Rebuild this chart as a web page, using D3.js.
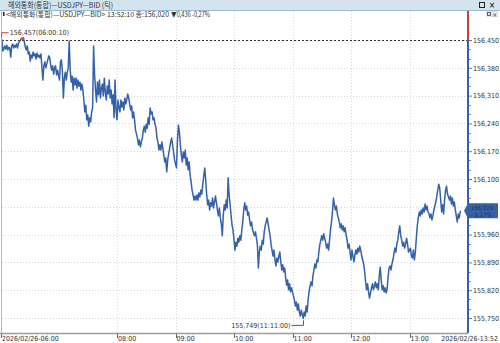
<!DOCTYPE html>
<meta charset="utf-8">
<style>
body { margin:0; background:#fff; }
text { font-family:"Liberation Sans Narrow","DejaVu Sans Condensed",sans-serif; font-size:7px; fill:#333; }
.kr { font-family:"Noto Sans CJK KR",sans-serif; }
</style>
<body>
<script src="https://cdn.jsdelivr.net/npm/d3@7/dist/d3.min.js"></script>
<script>

//==========tick data (one point per minute)==========
var times=[
 //06
 "06:00","06:00:10","06:02","06:03","06:05","06:06","06:07","06:08","06:09","06:10","06:11","06:12","06:13","06:14","06:15","06:16","06:17","06:18","06:19",
 "06:21","06:22","06:23","06:24","06:25","06:26","06:27","06:28","06:29","06:30","06:31","06:32","06:33","06:34","06:35","06:36","06:37","06:38","06:39","06:40","06:41","06:42",
 "06:44","06:45","06:46","06:47","06:48","06:49","06:50","06:51","06:52","06:53","06:54","06:55","06:56","06:57","06:58","06:59",
 //07
 "07:01","07:02","07:03","07:04","07:05","07:06","07:07","07:08","07:09","07:10","07:11","07:12","07:13","07:14","07:15","07:16","07:17","07:18","07:19","07:20",
 "07:21","07:22","07:23","07:24","07:25","07:26","07:27","07:28","07:29","07:30","07:31","07:32","07:33","07:34","07:35","07:36","07:37","07:38","07:39","07:40",
 "07:41","07:42","07:43","07:44","07:45","07:46","07:47","07:48","07:49","07:50","07:51","07:52","07:53","07:54","07:55","07:56","07:57","07:58","07:59",
 //08
 "08:00","08:01","08:02","08:03","08:04","08:05","08:06","08:07","08:08","08:09","08:10","08:11","08:12","08:13","08:14","08:15","08:16","08:17","08:18","08:19",
 "08:21","08:22","08:23","08:24","08:25","08:26","08:27","08:28","08:29","08:30","08:31","08:32","08:33","08:34","08:35","08:36","08:37","08:38","08:39","08:40",
 "08:41","08:42","08:43","08:44","08:45","08:46","08:47","08:48","08:49","08:50","08:51","08:52","08:53","08:54","08:55","08:56","08:57","08:58","08:59",
 //09
 "09:01","09:02","09:03","09:04","09:05","09:06","09:07","09:08","09:09","09:10","09:11","09:12","09:13","09:14","09:15","09:16","09:17","09:18","09:19","09:20",
 "09:21","09:22","09:23","09:24","09:25","09:26","09:27","09:28","09:29","09:30","09:31","09:32","09:33","09:34","09:35","09:36","09:37","09:38","09:39",
 "09:41","09:42","09:43","09:44","09:45","09:46","09:47","09:48","09:49","09:50","09:51","09:52","09:53","09:54","09:55","09:56","09:57","09:58","09:59",
 //10
 "10:00","10:01","10:02","10:03","10:04","10:05","10:06","10:07","10:08","10:09","10:10","10:11","10:12","10:13","10:14","10:15","10:16","10:17","10:18","10:19",
 "10:21","10:22","10:23","10:24","10:25","10:26","10:27","10:28","10:29","10:30","10:31","10:32","10:33","10:34","10:35","10:36","10:37","10:38","10:39","10:40",
 "10:41","10:42","10:43","10:44","10:45","10:46","10:47","10:48","10:49","10:50","10:51","10:52","10:53","10:54","10:55","10:56","10:57","10:58","10:59",
 //11
 "11:01","11:02","11:03","11:04","11:05","11:06","11:07","11:08","11:09",
 "11:11","11:12","11:13","11:14","11:15","11:16","11:17","11:18","11:19","11:20",
 "11:21","11:22","11:23","11:24","11:25","11:26","11:27","11:28","11:29","11:30","11:31","11:32","11:33","11:34","11:35","11:36","11:37","11:38","11:39","11:40",
 "11:41","11:42","11:43","11:44","11:45","11:46","11:47","11:48","11:49","11:50","11:51","11:52","11:53","11:54","11:55","11:56","11:57","11:58","11:59",
 //12
 "12:00","12:01","12:02","12:03","12:04","12:05","12:06","12:07","12:08","12:09","12:10","12:11","12:12","12:13","12:14","12:15","12:16","12:17","12:18","12:19",
 "12:21","12:22","12:23","12:24","12:25","12:26","12:27","12:28","12:29","12:30","12:31","12:32","12:33","12:34","12:35","12:36","12:37","12:38","12:39","12:40",
 "12:41","12:42","12:43","12:44","12:45","12:46","12:47","12:48","12:49","12:50","12:51","12:52","12:53","12:54","12:55","12:56","12:57","12:58","12:59",
 //13
 "13:01","13:02","13:03","13:04","13:05","13:06","13:07","13:08","13:09","13:10","13:11","13:12","13:13","13:14","13:15","13:16","13:17","13:18","13:19","13:20",
 "13:21","13:22","13:23","13:24","13:25","13:26","13:27","13:28","13:29","13:30","13:31","13:32","13:33","13:34","13:35","13:36","13:37","13:38","13:39",
 "13:41","13:42","13:43","13:44","13:45","13:46","13:47","13:48","13:49","13:50","13:51","13:52:10"
];

var prices=[
 //06
 156.455,156.457,156.450,156.422,156.435,156.427,156.437,156.425,156.432,156.430,156.407,156.435,156.440,156.430,156.437,156.432,156.440,156.430,156.442,
 156.450,156.455,156.452,156.456,156.445,156.432,156.425,156.435,156.415,156.420,156.397,156.412,156.405,156.420,156.410,156.415,156.402,156.417,156.407,156.412,156.405,156.415,
 156.349,156.385,156.395,156.380,156.390,156.400,156.410,156.405,156.387,156.374,156.385,156.364,156.380,156.385,156.362,156.374,
 //07
 156.349,156.395,156.400,156.369,156.304,156.354,156.369,156.349,156.369,156.380,156.447,156.374,156.344,156.359,156.324,156.354,156.337,156.354,156.329,156.349,
 156.334,156.344,156.324,156.339,156.324,156.299,156.269,156.286,156.249,156.261,156.233,156.254,156.244,156.269,156.279,156.435,156.362,156.324,156.294,156.344,
 156.312,156.349,156.304,156.329,156.339,156.309,156.354,156.319,156.299,156.334,156.314,156.349,156.304,156.324,156.289,156.312,156.254,156.349,156.274,
 //08
 156.249,156.299,156.279,156.269,156.299,156.281,156.294,156.274,156.304,156.289,156.299,156.314,156.304,156.289,156.274,156.284,156.254,156.269,156.249,156.223,
 156.203,156.186,156.198,156.181,156.193,156.203,156.223,156.233,156.218,156.238,156.228,156.254,156.238,156.279,156.264,156.269,156.249,156.254,156.238,156.228,
 156.203,156.193,156.173,156.186,156.173,156.193,156.178,156.160,156.143,156.153,156.118,156.148,156.163,156.178,156.193,156.203,156.186,156.168,156.148,
 //09
 156.128,156.198,156.236,156.218,156.186,156.160,156.143,156.168,156.153,156.173,156.135,156.153,156.123,156.143,156.110,156.092,156.072,156.060,156.047,156.057,
 156.047,156.060,156.047,156.065,156.055,156.072,156.062,156.087,156.108,156.128,156.097,156.060,156.035,156.047,156.022,156.040,156.032,156.052,156.027,
 156.057,156.040,156.022,156.007,156.027,156.002,155.987,155.957,156.009,156.035,156.022,156.047,156.027,156.103,156.060,156.035,156.009,155.984,155.972,
 //10
 155.946,155.921,155.941,155.931,155.951,155.941,155.957,155.946,155.972,155.992,156.022,156.040,156.022,156.032,156.009,156.017,155.997,155.982,155.992,155.972,
 155.957,155.967,155.951,155.934,155.876,155.916,155.931,155.921,155.946,155.936,155.967,155.982,155.992,156.002,155.987,155.972,155.957,155.936,155.921,155.906,
 155.921,155.896,155.881,155.901,155.891,155.906,155.916,155.891,155.871,155.884,155.866,155.876,155.851,155.833,155.846,155.821,155.836,155.816,155.826,
 //11
 155.805,155.795,155.780,155.790,155.770,155.785,155.765,155.755,155.770,
 155.749,155.765,155.755,155.780,155.765,155.795,155.816,155.831,155.841,155.831,
 155.856,155.871,155.886,155.876,155.896,155.891,155.916,155.934,155.946,155.957,155.946,155.962,155.951,155.941,155.926,155.936,155.921,155.946,155.972,155.992,
 156.017,156.052,156.035,156.022,156.032,156.012,156.002,155.992,155.977,155.987,155.972,155.982,155.967,155.977,155.959,155.946,155.926,155.936,155.916,
 //12
 155.896,155.921,155.906,155.891,155.909,155.921,155.911,155.926,155.916,155.931,155.921,155.906,155.896,155.886,155.866,155.841,155.821,155.836,155.816,155.800,
 155.826,155.836,155.821,155.831,155.841,155.826,155.836,155.821,155.856,155.878,155.846,155.821,155.831,155.816,155.826,155.813,155.821,155.851,155.876,155.881,
 155.871,155.886,155.896,155.911,155.926,155.916,155.936,155.946,155.967,155.982,155.957,155.946,155.931,155.941,155.926,155.936,155.951,155.936,155.916,
 //13
 155.926,155.906,155.901,155.921,155.896,155.916,155.951,155.982,156.002,156.017,156.007,156.022,156.012,156.027,156.017,156.037,156.022,156.032,156.017,156.012,
 156.002,156.012,155.997,156.007,156.022,156.032,156.042,156.057,156.072,156.087,156.077,156.047,156.017,156.035,156.012,156.047,156.072,156.082,156.062,
 156.047,156.057,156.037,156.052,156.032,156.042,156.022,156.007,155.992,156.012,156.002,156.020
];

//axis values
var yTicks=[155.750,155.820,155.890,155.960,156.030,156.100,156.170,156.240,156.310,156.380,156.450];
var hourLabels=["08:00","09:00","10:00","11:00","12:00","13:00"];
var firstLabel="2026/02/26-06:00";
var lastLabel="2026/02/26-13:52";
var baseLine=156.450;      //dashed line, red above it, blue below

//header texts
var titleText="해외통화(통합)—USDJPY—BID (틱)";
var infoText="<해외통화(통합)—USDJPY—BID> 13:52:10 종:156,020";
var changeText="▼0,436  -0,27%";
var tagLines=["156,020","- 0,27%"];

//==========scales==========
var parseT=d3.timeParse("%Y-%m-%d %H:%M:%S");
function toDate(s){ return parseT("2026-02-26 "+(s.length==5?s+":00":s)); }

var data=times.map(function(t,i){ return {t:toDate(t), p:prices[i]}; });

var W=500, H=343;
var plotL=2, plotR=467, plotT=11, plotB=333;

var x=d3.scaleTime().domain([toDate("06:00"),toDate("14:00")]).range([0,468]);
var y=d3.scaleLinear().domain([155.750,156.450]).range([318,40]);
var fmt=function(v){ return d3.format(".3f")(v).replace(".",","); };

var blue="#3561a8", red="#cf3f3a";

var svg=d3.select("body").append("svg").attr("width",W).attr("height",H);

//==========title bar==========
svg.append("rect").attr("x",0).attr("y",0).attr("width",W).attr("height",10).attr("fill","#d3e4ef");
svg.append("line").attr("x1",0).attr("x2",W).attr("y1",10.5).attr("y2",10.5).attr("stroke","#9db9cc");
svg.append("text").attr("class","kr").attr("x",8).attr("y",7.8).style("font-size","7.5px")
   .attr("textLength",105).attr("lengthAdjust","spacingAndGlyphs").text(titleText);
//window icons
svg.append("rect").attr("x",479.5).attr("y",2.5).attr("width",5).attr("height",5).attr("fill","none").attr("stroke","#222");
svg.append("text").attr("x",489).attr("y",8).style("font-size","8px").style("font-weight","bold").attr("fill","#222").text("×");

//info line
svg.append("rect").attr("x",3).attr("y",12).attr("width",1.5).attr("height",4).attr("fill","#222");
svg.append("text").attr("class","kr").attr("x",6).attr("y",16.5).style("font-size","7px")
   .attr("textLength",163).attr("lengthAdjust","spacingAndGlyphs").text(infoText);
svg.append("text").attr("class","kr").attr("x",171).attr("y",16.5).style("font-size","7px").attr("fill","#3561a8")
   .attr("textLength",39).attr("lengthAdjust","spacingAndGlyphs").text(changeText);
//small icons
svg.append("rect").attr("x",486).attr("y",11).attr("width",12).attr("height",6).attr("fill","#e6e6e6");
svg.append("rect").attr("x",487.5).attr("y",12.5).attr("width",3).attr("height",3).attr("fill","none").attr("stroke","#444").attr("stroke-width",0.8);
svg.append("text").attr("x",492.5).attr("y",16.5).style("font-size","6px").attr("fill","#666").text("×");

//==========grid==========
var grid=svg.append("g").attr("class","grid");
grid.selectAll(".hg").data(yTicks).enter().append("line")
    .attr("x1",plotL).attr("x2",plotR)
    .attr("y1",function(d){return Math.round(y(d))+0.5;}).attr("y2",function(d){return Math.round(y(d))+0.5;})
    .attr("stroke","#d6d6d6").attr("stroke-dasharray","1,2");
grid.selectAll(".vg").data(hourLabels).enter().append("line")
    .attr("x1",function(d){return Math.round(x(toDate(d)))+0.5;}).attr("x2",function(d){return Math.round(x(toDate(d)))+0.5;})
    .attr("y1",plotT).attr("y2",plotB)
    .attr("stroke","#d6d6d6").attr("stroke-dasharray","1,2");

//left border
svg.append("line").attr("x1",1.5).attr("x2",1.5).attr("y1",plotT).attr("y2",plotB).attr("stroke","#b8b8b8");

//base dashed line
svg.append("line").attr("x1",plotL).attr("x2",plotR)
   .attr("y1",Math.round(y(baseLine))+0.5).attr("y2",Math.round(y(baseLine))+0.5)
   .attr("stroke","#333").attr("stroke-dasharray","2,2");

//==========price line, split at base line==========
var defs=svg.append("defs");
defs.append("clipPath").attr("id","clipUp").append("rect")
    .attr("x",plotL).attr("y",plotT).attr("width",plotR-plotL).attr("height",y(baseLine)-plotT);
defs.append("clipPath").attr("id","clipDown").append("rect")
    .attr("x",plotL).attr("y",y(baseLine)).attr("width",plotR-plotL).attr("height",plotB-y(baseLine));

var line=d3.line().x(function(d){return x(d.t);}).y(function(d){return y(d.p);});

svg.append("path").datum(data).attr("d",line).attr("fill","none")
   .attr("stroke",blue).attr("stroke-width",1.5).attr("stroke-linejoin","round").attr("clip-path","url(#clipDown)");
svg.append("path").datum(data).attr("d",line).attr("fill","none")
   .attr("stroke",red).attr("stroke-width",1.5).attr("stroke-linejoin","round").attr("clip-path","url(#clipUp)");

//==========right axis==========
var axisX=468;
var last=data[data.length-1];
var yc=y(last.p);

svg.append("line").attr("x1",axisX).attr("x2",axisX).attr("y1",plotT).attr("y2",y(baseLine)).attr("stroke",red).attr("stroke-width",2);
svg.append("line").attr("x1",axisX).attr("x2",axisX).attr("y1",y(baseLine)).attr("y2",plotB).attr("stroke",blue).attr("stroke-width",2);

var yAxis=d3.axisRight(y).tickValues(yTicks).tickSize(3).tickPadding(1).tickFormat(fmt);
var ga=svg.append("g").attr("transform","translate("+(axisX+1)+",0)").call(yAxis);
ga.select(".domain").remove();
ga.selectAll("line").attr("stroke","#777");
ga.selectAll("text").attr("fill","#333").style("font-size","7px").style("font-family",'"Liberation Sans Narrow","DejaVu Sans Condensed",sans-serif');
//labels hidden under the price tag
ga.selectAll(".tick").filter(function(d){ return Math.abs(y(d)-yc)<10; }).select("text").remove();

//minor ticks between the labels
var minor=[];
for(var i=0;i<yTicks.length-1;i++){
    var step=(yTicks[i+1]-yTicks[i])/3;
    minor.push(yTicks[i]+step, yTicks[i]+2*step);
}
svg.selectAll(".minor").data(minor).enter().append("line")
   .attr("x1",axisX+1).attr("x2",axisX+3)
   .attr("y1",function(d){return Math.round(y(d))+0.5;}).attr("y2",function(d){return Math.round(y(d))+0.5;})
   .attr("stroke","#8a8a8a");

//==========bottom axis==========
svg.append("line").attr("x1",0).attr("x2",axisX).attr("y1",plotB+0.5).attr("y2",plotB+0.5).attr("stroke","#9c9c9c").attr("stroke-width",1.5);
var gx=svg.append("g");
gx.selectAll("line").data(hourLabels).enter().append("line")
  .attr("x1",function(d){return Math.round(x(toDate(d)))+0.5;}).attr("x2",function(d){return Math.round(x(toDate(d)))+0.5;})
  .attr("y1",plotB+1).attr("y2",plotB+5).attr("stroke","#666");
gx.selectAll("text").data(hourLabels).enter().append("text")
  .attr("x",function(d){return x(toDate(d))+1;}).attr("y",341).text(function(d){return d;});
svg.append("line").attr("x1",1.5).attr("x2",1.5).attr("y1",plotB+1).attr("y2",plotB+5).attr("stroke","#666");
svg.append("text").attr("x",2).attr("y",341).text(firstLabel);
svg.append("text").attr("x",498).attr("y",341).attr("text-anchor","end").text(lastLabel);

//==========current price tag==========
svg.append("path").attr("d","M"+(axisX-4)+","+yc+"L"+axisX+","+(yc-7.5)+"H498V"+(yc+7.5)+"H"+axisX+"Z").attr("fill",blue);
svg.selectAll(".tag").data(tagLines).enter().append("text")
   .attr("x",471).attr("y",function(d,i){return yc-1.2+i*7.2;}).attr("fill","#fff")
   .style("font-size","6px").text(function(d){return d;});

//==========max / min markers==========
var maxD=data.reduce(function(a,b){return b.p>a.p?b:a;});
var minD=data.reduce(function(a,b){return b.p<a.p?b:a;});
var fmtT=d3.timeFormat("%H:%M:%S");

var xM=x(maxD.t)+1.5, yM=y(maxD.p);
svg.append("path").attr("d","M"+xM+","+(yM)+"V"+(yM-4.5)+"H"+(xM+7)).attr("fill","none").attr("stroke",red);
svg.append("text").attr("x",xM+8).attr("y",yM-2).attr("fill",red).text(fmt(maxD.p)+"("+fmtT(maxD.t)+")");

var xm=Math.round(x(minD.t))+0.5, ym=y(minD.p);
svg.append("path").attr("d","M"+xm+","+(ym+2)+"V"+(ym+7)+"H"+(xm-12)).attr("fill","none").attr("stroke","#4b5a78");
svg.append("text").attr("x",xm-13).attr("y",ym+9.5).attr("text-anchor","end").attr("fill","#4b5a78").text(fmt(minD.p)+"("+fmtT(minD.t)+")");

</script>
</body>
